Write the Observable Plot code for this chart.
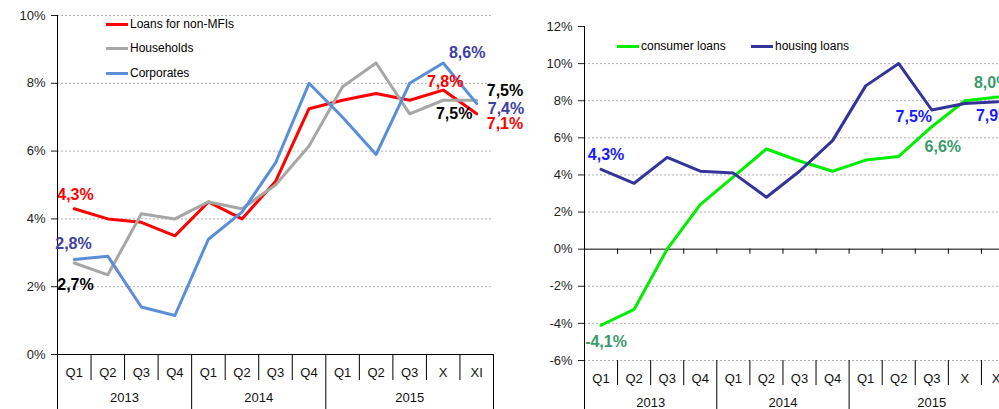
<!DOCTYPE html>
<html><head><meta charset="utf-8">
<script src="https://cdn.jsdelivr.net/npm/d3@7"></script>
<script src="https://cdn.jsdelivr.net/npm/@observablehq/plot@0.6"></script>
<style>
html,body{margin:0;padding:0;width:999px;height:409px;overflow:hidden;background:#fff;font-family:"Liberation Sans",Arial,sans-serif;}
#wrap{position:relative;width:999px;height:409px;overflow:hidden;}
.panel{position:absolute;top:0;}
.legend{position:absolute;font-size:12px;color:#000;display:flex;align-items:center;height:16px;white-space:nowrap;}
.sw{display:inline-block;width:22px;height:3px;margin-right:2px;}
</style></head><body><div id="wrap"></div>
<script>
// ---------- data ----------
const periods = ["Q1","Q2","Q3","Q4","Q1","Q2","Q3","Q4","Q1","Q2","Q3","X","XI"];
const periodYears = ["2013","2013","2013","2013","2014","2014","2014","2014","2015","2015","2015","2015","2015"];
const years = ["2013","2014","2015"];
const leftTicks = [0,2,4,6,8,10];
const rightTicks = [-6,-4,-2,0,2,4,6,8,10,12];

const leftNames = ["Loans for non-MFIs","Households","Corporates"];
const loansNonMFI = [4.3,4.0,3.9,3.5,4.5,4.0,5.1,7.25,7.5,7.7,7.5,7.8,7.1];
const households  = [2.7,2.35,4.15,4.0,4.5,4.3,5.0,6.15,7.9,8.6,7.1,7.5,7.5];
const corporates  = [2.8,2.9,1.4,1.15,3.4,4.2,5.65,8.0,7.0,5.9,8.0,8.6,7.4];

const rightNames = ["consumer loans","housing loans"];
const consumerLoans = [-4.1,-3.25,0.0,2.4,3.9,5.4,4.75,4.2,4.8,5.0,6.6,8.0,8.2];
const housingLoans  = [4.3,3.55,4.95,4.2,4.1,2.8,4.2,5.85,8.8,10.0,7.5,7.85,7.95];

// value labels: [series name, period index, text]
const leftLabels = [
  ["Loans for non-MFIs",0,"4,3%"],
  ["Corporates",0,"2,8%"],
  ["Households",0,"2,7%"],
  ["Loans for non-MFIs",11,"7,8%"],
  ["Corporates",11,"8,6%"],
  ["Households",11,"7,5%"],
  ["Households",12,"7,5%"],
  ["Corporates",12,"7,4%"],
  ["Loans for non-MFIs",12,"7,1%"]
];
const rightLabels = [
  ["housing loans",0,"4,3%"],
  ["consumer loans",0,"-4,1%"],
  ["housing loans",10,"7,5%"],
  ["consumer loans",10,"6,6%"],
  ["consumer loans",12,"8,0%"],
  ["housing loans",12,"7,9%"]
];

// ---------- styles ----------
const leftColors = ["#ff0000","#a6a6a6","#5a8fd8"];
const rightColors = ["#00ee00","#333399"];
const leftLabelStyle = [
  {fill:"#ff0000",dx:-17,dy:-14,anchor:"start"},
  {fill:"#40409f",dx:-19,dy:-16,anchor:"start"},
  {fill:"#000000",dx:-17,dy:22,anchor:"start"},
  {fill:"#ff0000",dx:2,dy:-8,anchor:"middle"},
  {fill:"#40409f",dx:24,dy:-10,anchor:"middle"},
  {fill:"#000000",dx:11,dy:14,anchor:"middle"},
  {fill:"#000000",dx:10,dy:-9,anchor:"start"},
  {fill:"#40409f",dx:11,dy:5,anchor:"start"},
  {fill:"#ff0000",dx:10,dy:10,anchor:"start"}
];
const rightLabelStyle = [
  {fill:"#1a1aff",dx:5,dy:-15,anchor:"middle"},
  {fill:"#3a9a6a",dx:5,dy:17,anchor:"middle"},
  {fill:"#1a1aff",dx:-18,dy:7,anchor:"middle"},
  {fill:"#3a9a6a",dx:11,dy:20,anchor:"middle"},
  {fill:"#3a9a6a",dx:-24,dy:-14,anchor:"start"},
  {fill:"#1a1aff",dx:-22,dy:14,anchor:"start"}
];
const FONT = "Liberation Sans, Arial, sans-serif";
const svgStyle = `font-family:${FONT};font-size:13px;color:#222;background:transparent;overflow:visible;max-width:none;`;
const gridStyle = {stroke:"#b0b0b0", strokeDasharray:"2,2", strokeWidth:1};

// ---------- helpers ----------
const n = periods.length;
const cx = i => i + 0.5;
const yearGroups = years.map(y => ({year:y, start:periodYears.indexOf(y), end:periodYears.lastIndexOf(y)+1}));
const yearBounds = [0, ...yearGroups.map(g => g.end)];
const catBounds = d3.range(1, n).filter(b => !yearBounds.includes(b));

function rowsOf(names, arrays){
  return names.flatMap((name, k) => arrays[k].map((v, i) => ({series:name, i, v})));
}
function labelMarks(labels, styles, arrays, names){
  return labels.map((l, k) => {
    const s = styles[k];
    const v = arrays[names.indexOf(l[0])][l[1]];
    return Plot.text([{i:l[1], v, t:l[2]}], {
      x: d => cx(d.i), y: "v", text: "t", fill: s.fill, dx: s.dx, dy: s.dy,
      textAnchor: s.anchor, fontSize: 16, fontWeight: "bold", fontFamily: FONT
    });
  });
}
function categoryMarks(yQ, yYear, catTop, catBottom, yearTop, yearBottom, axisTop){
  return [
    Plot.ruleX(catBounds, {x: d => d, y1: () => catTop, y2: () => catBottom, stroke:"#000"}),
    Plot.ruleX(yearBounds.slice(1), {x: d => d, y1: () => yearTop, y2: () => yearBottom, stroke:"#000"}),
    Plot.ruleX([0], {x: d => d, y1: () => axisTop, y2: () => yearBottom, stroke:"#000"}),
    Plot.text(periods, {x: (d, i) => cx(i), y: () => yQ, text: d => d, fontSize: 13, fill:"#111"}),
    Plot.text(yearGroups, {x: g => (g.start + g.end) / 2, y: () => yYear, text: "year", fontSize: 13, fill:"#111"})
  ];
}

const wrap = document.getElementById("wrap");

// ---------- left panel ----------
const leftArrays = [loansNonMFI, households, corporates];
const leftPlot = Plot.plot({
  width: 540, height: 409,
  marginLeft: 57, marginRight: 47, marginTop: 15, marginBottom: 55,
  style: svgStyle,
  x: {domain: [0, n], axis: null},
  y: {domain: [0, 10], ticks: leftTicks, tickFormat: d => d + "%", tickSize: 6, tickPadding: 6, label: null},
  color: {domain: leftNames, range: leftColors},
  marks: [
    Plot.ruleY(leftTicks.filter(t => t !== 0), {y: d => d, ...gridStyle}),
    Plot.ruleY([0], {y: d => d, stroke: "#000"}),
    ...categoryMarks(-0.55, -1.27, 0, -0.77, 0, -1.75, 10),
    Plot.line(rowsOf(leftNames, leftArrays), {x: d => cx(d.i), y: "v", z: "series", stroke: "series", strokeWidth: 3}),
    ...labelMarks(leftLabels, leftLabelStyle, leftArrays, leftNames)
  ]
});
const lp = document.createElement("div"); lp.className = "panel"; lp.style.left = "0px";
lp.appendChild(leftPlot); wrap.appendChild(lp);

// ---------- right panel ----------
const rightArrays = [consumerLoans, housingLoans];
const rightPlot = Plot.plot({
  width: 540, height: 409,
  marginLeft: 104, marginRight: 6, marginTop: 26, marginBottom: 49,
  style: svgStyle,
  x: {domain: [0, n], axis: null},
  y: {domain: [-6, 12], ticks: rightTicks, tickFormat: d => d + "%", tickSize: 6, tickPadding: 6, label: null},
  color: {domain: rightNames, range: rightColors},
  marks: [
    Plot.ruleY(rightTicks.filter(t => t !== 0 && t !== 12), {y: d => d, ...gridStyle}),
    Plot.ruleY([0], {y: d => d, stroke: "#000"}),
    Plot.ruleX(d3.range(1, n + 1), {x: d => d, y1: () => 0, y2: () => -0.27, stroke: "#000"}),
    ...categoryMarks(-6.97, -8.3, -6, -7.35, -6, -8.7, 12),
    Plot.line(rowsOf(rightNames, rightArrays), {x: d => cx(d.i), y: "v", z: "series", stroke: "series", strokeWidth: 3}),
    ...labelMarks(rightLabels, rightLabelStyle, rightArrays, rightNames)
  ]
});
const rp = document.createElement("div"); rp.className = "panel"; rp.style.left = "480px";
rp.appendChild(rightPlot); wrap.appendChild(rp);

// ---------- legends ----------
function legendItem(name, color, left, top){
  const d = document.createElement("div");
  d.className = "legend";
  d.style.left = left + "px"; d.style.top = (top - 8) + "px";
  const sw = document.createElement("span"); sw.className = "sw"; sw.style.background = color;
  d.appendChild(sw); d.appendChild(document.createTextNode(name));
  wrap.appendChild(d);
}
leftNames.forEach((nm, k) => legendItem(nm, leftColors[k], 106, [24, 48, 73][k]));
legendItem(rightNames[0], rightColors[0], 617, 46);
legendItem(rightNames[1], rightColors[1], 751, 46);
</script></body></html>
